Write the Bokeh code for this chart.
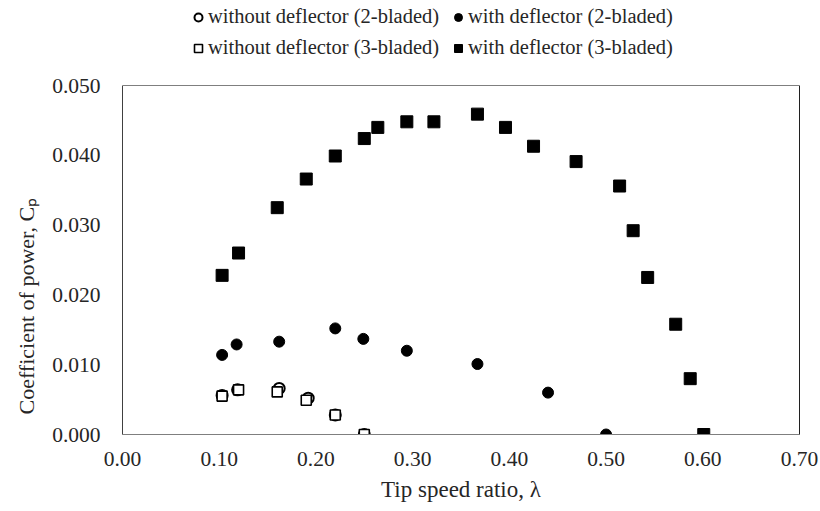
from bokeh.plotting import figure
from bokeh.models import (Range1d, FixedTicker, NumeralTickFormatter, Legend,
                          LegendItem, Title, Span, LinearAxis)
from bokeh.embed import file_html
from bokeh.resources import INLINE

# ---- data ----
tsr_wo2 = [0.103, 0.119, 0.162, 0.192, 0.220, 0.250]
cp_wo2 = [0.0056, 0.0064, 0.0066, 0.0052, 0.0028, 0.0]

tsr_w2 = [0.103, 0.118, 0.162, 0.220, 0.249, 0.294, 0.367, 0.440, 0.500]
cp_w2 = [0.0114, 0.0129, 0.0133, 0.0152, 0.0137, 0.0120, 0.0101, 0.0060, 0.0]

tsr_wo3 = [0.103, 0.120, 0.160, 0.190, 0.220, 0.250]
cp_wo3 = [0.0055, 0.0064, 0.0061, 0.0049, 0.0028, 0.0]

tsr_w3 = [0.103, 0.120, 0.160, 0.190, 0.220, 0.250, 0.264, 0.294, 0.322,
          0.367, 0.396, 0.425, 0.469, 0.514, 0.528, 0.543, 0.572, 0.587, 0.601]
cp_w3 = [0.0228, 0.0260, 0.0325, 0.0366, 0.0399, 0.0424, 0.0440, 0.0448, 0.0448,
         0.0459, 0.0440, 0.0413, 0.0391, 0.0356, 0.0292, 0.0225, 0.0158, 0.0080, 0.0]

x_ticks = [0.0, 0.1, 0.2, 0.3, 0.4, 0.5, 0.6, 0.7]
y_ticks = [0.0, 0.01, 0.02, 0.03, 0.04, 0.05]
y_max = 0.05

series_labels = ["without deflector (2-bladed)", "with deflector (2-bladed)",
                 "without deflector (3-bladed)", "with deflector (3-bladed)"]
x_title = "Tip speed ratio, λ"
y_title = "Coefficient of power, Cₚ"

FONT = "Liberation Serif"
TXT = "#262626"
FRAME = "#7f7f7f"

# the frame reaches up to the canvas top so that the legend can sit above the box
p = figure(width=820, height=511, x_range=Range1d(0, 0.7),
           y_range=Range1d(0, 0.06218),
           output_backend="svg", toolbar_location=None,
           min_border_left=120, min_border_right=21, min_border_top=0,
           min_border_bottom=77)
if p.title is not None:
    p.title.visible = False

p.xgrid.visible = False
p.ygrid.visible = False
p.outline_line_color = None

for ax in (p.xaxis[0], p.yaxis[0]):
    ax.major_tick_line_color = None
    ax.minor_tick_line_color = None
    ax.major_tick_out = 0
    ax.major_tick_in = 0
    ax.major_label_text_font = FONT
    ax.major_label_text_font_size = "21.5px"
    ax.major_label_text_color = TXT
p.xaxis.ticker = FixedTicker(ticks=x_ticks)
p.yaxis.ticker = FixedTicker(ticks=y_ticks)
p.xaxis.formatter = NumeralTickFormatter(format="0.00")
p.yaxis.formatter = NumeralTickFormatter(format="0.000")
p.xaxis.major_label_standoff = 17
p.yaxis.major_label_standoff = 22
p.xaxis.axis_line_color = FRAME
p.yaxis.axis_line_color = "#404040"
p.yaxis.bounds = (0, y_max)

p.xaxis.axis_label = x_title
p.xaxis.axis_label_text_font = FONT
p.xaxis.axis_label_text_font_size = "23px"
p.xaxis.axis_label_text_font_style = "normal"
p.xaxis.axis_label_text_color = TXT
p.xaxis.axis_label_standoff = 8

# box: top edge and right edge of the plotting area
p.add_layout(Span(location=y_max, dimension="width", line_color=FRAME, line_width=1))
right = LinearAxis(ticker=FixedTicker(ticks=[]), bounds=(0, y_max),
                   axis_line_color="#202020", major_tick_line_color=None,
                   minor_tick_line_color=None, major_label_text_font_size="0px",
                   major_tick_out=0, major_tick_in=0)
p.add_layout(right, "right")

r1 = p.scatter(tsr_wo2, cp_wo2, marker="circle", size=11, line_width=2,
               fill_color="white", line_color="black")
r2 = p.scatter(tsr_w2, cp_w2, marker="circle", size=11, line_width=1,
               fill_color="black", line_color="black")
r3 = p.scatter(tsr_wo3, cp_wo3, marker="square", size=10, line_width=1.6,
               fill_color="white", line_color="black")
r4 = p.scatter(tsr_w3, cp_w3, marker="square", size=12, line_width=1,
               fill_color="black", line_color="black")

legend = Legend(items=[LegendItem(label=series_labels[0], renderers=[r1]),
                       LegendItem(label=series_labels[1], renderers=[r2]),
                       LegendItem(label=series_labels[2], renderers=[r3]),
                       LegendItem(label=series_labels[3], renderers=[r4])],
                location=(66, 375), orientation="horizontal", ncols=2,
                border_line_color=None, background_fill_alpha=0,
                label_text_font=FONT, label_text_font_size="20.5px",
                label_text_color=TXT,
                glyph_width=20, glyph_height=20, label_standoff=0,
                spacing=8, padding=0, margin=0, label_width=232)
p.add_layout(legend, "center")

p.add_layout(Title(text=y_title, align="left", offset=20, text_font=FONT,
                   text_font_size="22px", text_font_style="normal",
                   text_color=TXT, standoff=22), "left")

open("out.html", "w").write(file_html(p, INLINE))
